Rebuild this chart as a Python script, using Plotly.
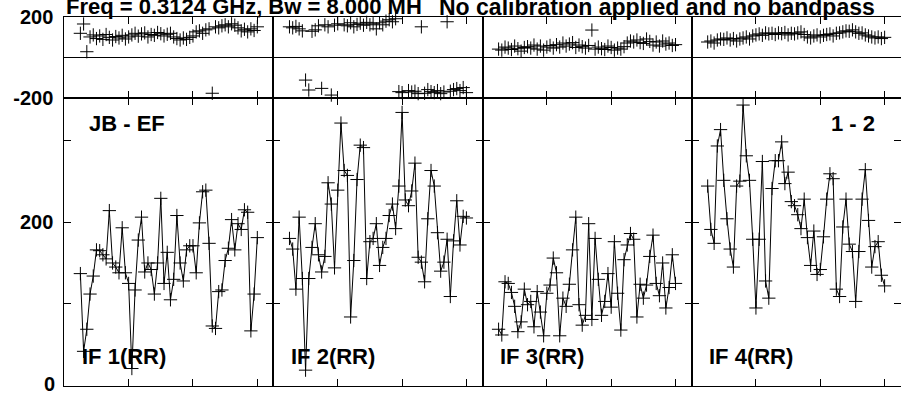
import plotly.graph_objects as go

# ---------------- data ----------------
channels = list(range(5, 61))  # 56 channels per IF

if_labels = ["IF 1(RR)", "IF 2(RR)", "IF 3(RR)", "IF 4(RR)"]
baseline_label = "JB - EF"
stokes_label = "1 - 2"
title_left = "Freq = 0.3124 GHz, Bw = 8.000 MH"
title_right = "No calibration applied and no bandpass"
amp_zero_label = "0"

amp_if1 = [137, 42, 69, 112, 134, 166, 165, 160, 155, 214, 150, 145, 138, 193, 138, 125,
           21, 117, 178, 206, 139, 150, 142, 112, 150, 229, 125, 163, 105, 130, 208, 150,
           128, 166, 171, 171, 138, 199, 237, 239, 174, 73, 70, 115, 117, 153, 168, 203,
           166, 198, 191, 215, 212, 67, 112, 181]
amp_if2 = [180, 167, 118, 206, 131, 19, 131, 169, 198, 160, 139, 158, 248, 222, 144, 239,
           321, 263, 257, 84, 153, 252, 294, 291, 131, 176, 180, 198, 147, 169, 180, 208,
           222, 192, 244, 334, 227, 220, 238, 272, 157, 151, 127, 204, 263, 244, 187, 140,
           151, 179, 109, 177, 226, 172, 207, 205]
amp_if3 = [69, 62, 127, 125, 114, 97, 66, 78, 118, 99, 103, 72, 115, 90, 61, 113,
           123, 156, 138, 61, 107, 97, 124, 166, 206, 99, 74, 86, 198, 81, 180, 130,
           86, 103, 137, 96, 176, 113, 68, 154, 172, 186, 179, 84, 124, 107, 123, 158,
           184, 125, 110, 150, 95, 120, 160, 125]
amp_if4 = [244, 191, 174, 293, 313, 251, 204, 167, 145, 244, 250, 343, 281, 251, 179, 95,
           179, 274, 128, 107, 241, 275, 275, 298, 247, 261, 225, 220, 209, 192, 228, 181,
           147, 189, 136, 142, 182, 228, 259, 253, 118, 109, 194, 228, 173, 164, 103, 164,
           228, 264, 202, 145, 170, 176, 135, 122]

ph_if1 = [118, 164, 27, 100, 110, 92, 105, 88, 112, 98, 85, 102, 95, 108, 90, 100,
          110, 118, 104, 115, 120, 100, 112, 108, 122, 116, 105, 113, 118, 100, 92, 85,
          95, 88, 98, 105, 125, 130, 118, 135, 140, -178, 150, 145, 155, 160, 150, 165,
          158, 145, 130, 138, 125, 140, 132, 150]
ph_if2 = [150, 145, 152, 140, 130, -113, -162, 128, 135, 155, -154, 160, 150, -187, 158, 165,
          -326, 160, 155, 170, 150, 162, 168, 158, 172, 160, 165, 140, 170, 160, 178, 185,
          175, 190, -170, -175, -285, -165, -172, -168, -180, 150, -178, -160, -170, -175,
          -165, -180, -172, 175, -168, -160, -155, -165, -150, -175]
ph_if3 = [40, 35, 50, 45, 38, 55, 42, 30, 48, 52, 45, 60, 40, 55, 35, 50,
          58, 45, 62, 50, 70, 55, 65, 72, 48, 60, 52, 45, 58, 134, 40, 50,
          42, 38, 55, 48, 35, 45, 40, 52, 70, 80, 75, 85, 72, 68, 90, 78,
          60, 75, 55, 80, 65, 70, 58, 62]
ph_if4 = [75, 80, 70, 85, 90, 88, 95, 85, 92, 80, 90, 95, 100, 90, 105, 110,
          115, 108, 120, 115, 118, 112, 120, 116, 122, 110, 118, 115, 120, 125, 112, 100,
          95, 105, 110, 100, 108, 112, 115, 105, 118, 120, 125, 130, 128, 135, 125, 118,
          120, 110, 105, 100, 95, 100, 92, 98]

amps = [amp_if1, amp_if2, amp_if3, amp_if4]
phases = [ph_if1, ph_if2, ph_if3, ph_if4]

# ---------------- layout geometry ----------------
W, H = 901, 394
left0, pw = 64.3, 209.1
ph_top, ph_bot = 16.7, 97.7
am_top, am_bot = 97.7, 385.7

def fy(p):
    return 1 - p / H

fig = go.Figure()
FONT = "Liberation Sans, Arial, Helvetica, sans-serif"

axis_common = dict(showline=True, linecolor="black", linewidth=1, mirror="ticks",
                   ticks="inside", ticklen=7, tickcolor="black", tickwidth=1,
                   showgrid=False, zeroline=False, fixedrange=True, automargin=False)

MK = dict(symbol="cross-thin-open", size=9.5, color="black",
          line=dict(color="black", width=1))

for i in range(4):
    x0 = (left0 + i * pw) / W
    x1 = (left0 + (i + 1) * pw) / W
    pa = 2 * i + 1
    aa = 2 * i + 2
    # phase panel
    fig.add_trace(go.Scatter(x=channels, y=phases[i], mode="markers", marker=MK,
                             cliponaxis=False,
                             xaxis=f"x{pa}", yaxis=f"y{pa}", hoverinfo="skip"))
    # amplitude panel
    fig.add_trace(go.Scatter(x=channels, y=amps[i], mode="lines+markers",
                             line=dict(color="black", width=1), marker=MK,
                             xaxis=f"x{aa}", yaxis=f"y{aa}", hoverinfo="skip"))
    xa = dict(axis_common, domain=[x0, x1], range=[0, 65], tickvals=[20, 40, 60],
              showticklabels=False)
    fig.layout[f"xaxis{pa}"] = dict(xa, anchor=f"y{pa}")
    fig.layout[f"xaxis{aa}"] = dict(xa, anchor=f"y{aa}")
    fig.layout[f"yaxis{pa}"] = dict(axis_common, domain=[fy(ph_bot), fy(ph_top)],
                                    anchor=f"x{pa}", range=[-200, 200],
                                    tickvals=[-200, 200],
                                    ticktext=["<b>-200</b>", "<b>200</b>"],
                                    showticklabels=(i == 0),
                                    zeroline=True, zerolinecolor="black", zerolinewidth=1,
                                    tickfont=dict(family=FONT, size=20, color="black"),
                                    ticklabelstandoff=6)
    fig.layout[f"yaxis{aa}"] = dict(axis_common, domain=[fy(am_bot), fy(am_top)],
                                    anchor=f"x{aa}", range=[0, 352],
                                    tickvals=[0, 100, 200, 300],
                                    ticktext=["", "", "<b>200</b>", ""],
                                    showticklabels=(i == 0),
                                    tickfont=dict(family=FONT, size=20, color="black"),
                                    ticklabelstandoff=6)
    fig.add_annotation(text=f"<b>{if_labels[i]}</b>", xref="paper", yref="paper",
                       x=(left0 + i * pw + 15.5) / W, y=fy(356), xanchor="left",
                       yanchor="middle", showarrow=False,
                       font=dict(family=FONT, size=22, color="black"))

# "0" label of the amplitude axis (bottom-left)
fig.add_annotation(text=f"<b>{amp_zero_label}</b>", xref="paper", yref="paper",
                   x=57 / W, y=fy(383.5), xanchor="right", yanchor="middle",
                   showarrow=False, font=dict(family=FONT, size=20, color="black"))

fig.add_annotation(text=f"<b>{baseline_label}</b>", xref="paper", yref="paper",
                   x=87 / W, y=fy(123.5), xanchor="left", yanchor="middle",
                   showarrow=False, font=dict(family=FONT, size=22, color="black"))
fig.add_annotation(text=f"<b>{stokes_label}</b>", xref="paper", yref="paper",
                   x=877 / W, y=fy(123.5), xanchor="right", yanchor="middle",
                   showarrow=False, font=dict(family=FONT, size=22, color="black"))

# title (the reference's top edge trims it slightly)
TY = fy(7)
fig.add_annotation(text=f"<b>{title_left}</b>", xref="paper", yref="paper",
                   x=64 / W, y=TY, xanchor="left", yanchor="middle",
                   showarrow=False, font=dict(family=FONT, size=22, color="black"))
fig.add_annotation(text=f"<b>{title_right}</b>", xref="paper", yref="paper",
                   x=437 / W, y=TY, xanchor="left", yanchor="middle",
                   showarrow=False, font=dict(family=FONT, size=23, color="black"))

fig.update_layout(width=W, height=H,
                  margin=dict(l=0, r=0, t=0, b=0, pad=0, autoexpand=False),
                  paper_bgcolor="white", plot_bgcolor="white", showlegend=False)

fig.write_html("out.html", config={"displayModeBar": False},
               post_script="document.body.style.margin='0px';")
